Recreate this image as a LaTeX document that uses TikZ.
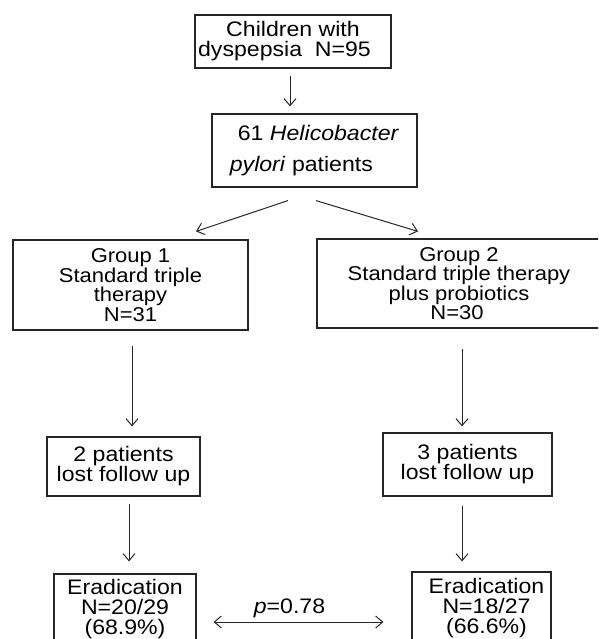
\documentclass[tikz,border=0pt]{standalone}
\usepackage{fontspec}
\setmainfont{Liberation Sans}[FakeStretch=1.1]
\usetikzlibrary{arrows.meta,calc}
\begin{document}
\begin{tikzpicture}[x=1pt,y=-1pt,
  box/.style={draw=black!85,line width=1.2pt,inner sep=0pt,align=center,font=\fontsize{21}{20}\selectfont},
  gbox/.style={font=\fontsize{20}{19.5}\selectfont},
  arr/.style={draw=black!85,line width=1pt,-{Straight Barb[length=7pt,width=12pt]}},
  darr/.style={draw=black!85,line width=1pt,{Straight Barb[length=7pt,width=12pt]}-{Straight Barb[length=7pt,width=12pt]}},
  ]
\useasboundingbox (0,0) rectangle (598,639);
\clip (0,0) rectangle (598,639);
\node[box,minimum width=196pt,minimum height=53pt] (b1) at (293,41.5) {Children with\\dyspepsia~~N=95\hspace*{17pt}};
\node[box,minimum width=205pt,minimum height=73pt,align=left,font=\fontsize{21}{31}\selectfont] (hp) at (314.5,150.5) {\hspace*{8pt}61 \textit{Helicobacter}\\\textit{pylori} patients};
\node[box,gbox,minimum width=235pt,minimum height=90pt] (g1) at (130.5,285) {Group 1\\Standard triple\\therapy\\N=31};
\node[box,gbox,minimum width=284pt,minimum height=89pt] (g2) at (459,283.5) {Group 2\\Standard triple therapy\\plus probiotics\\N=30\hspace*{4pt}};
\node[box,minimum width=153pt,minimum height=59pt] (l1) at (123.5,466.5) {2 patients\\lost follow up};
\node[box,minimum width=169pt,minimum height=63pt] (l2) at (467.5,464.5) {3 patients\\lost follow up};
\node[box,minimum width=142pt,minimum height=70pt] (e1) at (125,609) {Eradication\\N=20/29\\(68.9\%)};
\node[box,minimum width=139pt,minimum height=72pt] (e2) at (481.5,608) {\hspace*{10pt}Eradication\\\hspace*{10pt}N=18/27\\\hspace*{10pt}(66.6\%)};
\draw[arr,shorten <=7pt,shorten >=7pt] ([xshift=-3pt]b1.south) -- ([xshift=-3pt]b1.south |- hp.north);
\draw[arr] ([xshift=-26.5pt,yshift=-13pt]hp.south) -- ([xshift=65.5pt,yshift=8pt]g1.north);
\draw[arr] ([xshift=1.5pt,yshift=-13pt]hp.south) -- ([xshift=-41pt,yshift=7pt]g2.north);
\draw[arr,shorten <=15pt,shorten >=10pt] ([xshift=1.5pt]g1.south) -- ([xshift=1.5pt]g1.south |- l1.north);
\draw[arr,shorten <=20pt,shorten >=6pt] ([xshift=3pt]g2.south) -- ([xshift=3pt]g2.south |- l2.north);
\draw[arr,shorten <=7pt,shorten >=12pt] ([xshift=5.5pt]l1.south) -- ([xshift=5.5pt]l1.south |- e1.north);
\draw[arr,shorten <=9pt,shorten >=10pt] ([xshift=-5.5pt]l2.south) -- ([xshift=-5.5pt]l2.south |- e2.north);
\draw[darr] ([xshift=17pt,yshift=-13pt]e1.east) -- ([xshift=-28pt,yshift=-14pt]e2.west) node[midway,above=0pt,xshift=-9pt,font=\fontsize{21}{20}\selectfont] (pv) {\textit{p}=0.78};
\end{tikzpicture}
\end{document}
